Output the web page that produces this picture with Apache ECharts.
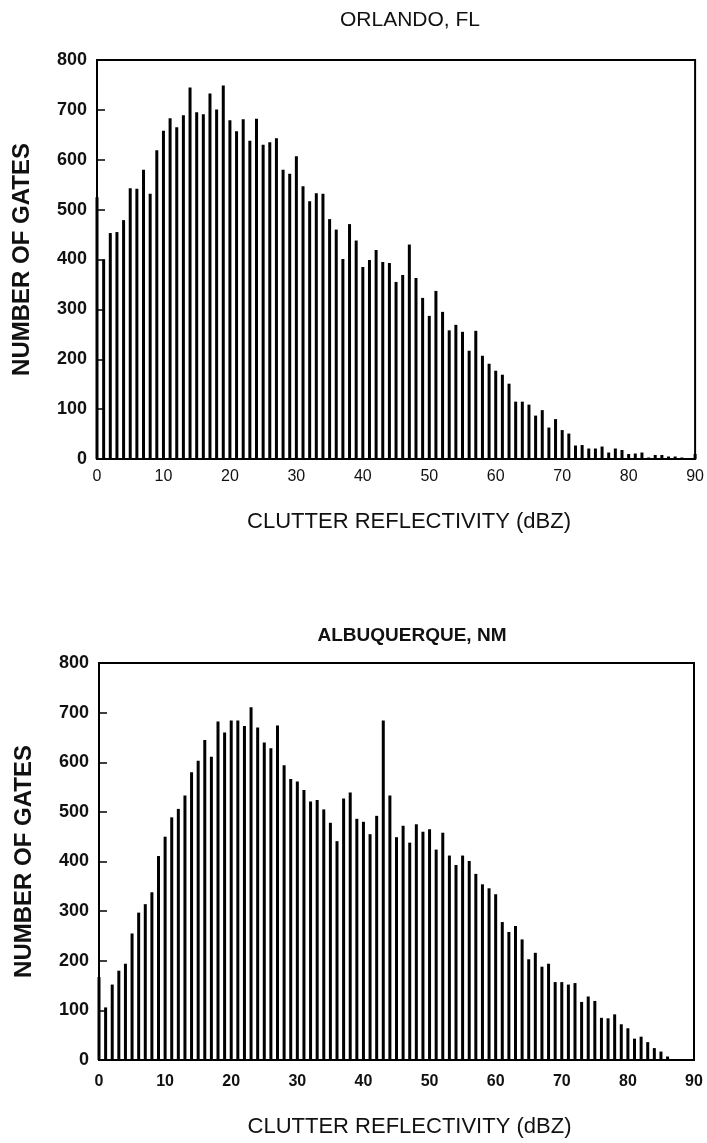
<!DOCTYPE html>
<html>
<head>
<meta charset="utf-8">
<script src="https://cdn.jsdelivr.net/npm/echarts@6/dist/echarts.min.js"></script>
<style>
  html, body { margin: 0; padding: 0; background: #fff; }
  #main { width: 707px; height: 1143px; }
</style>
</head>
<body>
<div id="main"></div>
<script>
// dBZ bins 0..90
const dbz = Array.from({ length: 91 }, (_, i) => i);
const xTicks = [0, 10, 20, 30, 40, 50, 60, 70, 80, 90];
const yTicks = [0, 100, 200, 300, 400, 500, 600, 700, 800];

const orlandoTitle = "ORLANDO, FL";
const albuquerqueTitle = "ALBUQUERQUE, NM";

// number of gates per bin
const orlando = [
  525, 400, 453, 455, 479, 543, 542, 580, 532, 619,
  658, 683, 665, 689, 745, 695, 691, 733, 701, 749,
  679, 657, 681, 638, 682, 630, 635, 643, 580, 572,
  607, 547, 517, 533, 532, 481, 460, 401, 471, 438,
  385, 399, 419, 395, 393, 355, 369, 430, 363, 323,
  287, 337, 295, 258, 269, 255, 217, 257, 207, 191,
  177, 169, 151, 115, 115, 109, 87, 98, 63, 80,
  58, 51, 27, 28, 21, 21, 25, 13, 21, 18,
  10, 11, 13, 3, 8, 8, 5, 5, 3, 1,
  10
];
const albuquerque = [
  167, 106, 152, 180, 194, 255, 297, 314, 338, 411,
  450, 489, 506, 533, 580, 603, 645, 611, 682, 660,
  684, 684, 673, 711, 670, 640, 628, 674, 594, 566,
  561, 544, 521, 524, 505, 478, 441, 527, 539, 486,
  480, 455, 492, 684, 533, 449, 472, 438, 475, 460,
  465, 424, 458, 412, 393, 412, 401, 375, 354, 346,
  334, 278, 258, 270, 243, 203, 216, 188, 194, 157,
  157, 152, 155, 117, 128, 119, 85, 84, 92, 72,
  64, 43, 47, 36, 24, 17, 7, 2, 1, 1,
  0
];

const FONT = "Liberation Sans";

function xAxisFor(gridIndex, labelMargin, nameGap, bold) {
  return {
    type: "value",
    gridIndex: gridIndex,
    min: xTicks[0],
    max: xTicks[xTicks.length - 1],
    interval: 10,
    name: "CLUTTER REFLECTIVITY (dBZ)",
    nameLocation: "middle",
    nameGap: nameGap,
    nameTextStyle: { fontFamily: FONT, fontSize: 22, color: "#111", padding: [0, 0, 0, 26] },
    axisLine: { show: true, lineStyle: { color: "#000", width: 2 } },
    axisTick: { show: false },
    splitLine: { show: false },
    axisLabel: {
      margin: labelMargin,
      fontFamily: FONT,
      fontSize: 16,
      fontWeight: bold ? "bold" : "normal",
      color: "#111",
    },
  };
}

function yAxisFor(gridIndex) {
  return {
    type: "value",
    gridIndex: gridIndex,
    min: yTicks[0],
    max: yTicks[yTicks.length - 1],
    interval: 100,
    name: "NUMBER OF GATES",
    nameLocation: "middle",
    nameRotate: 90,
    nameGap: 63,
    nameTextStyle: { fontFamily: FONT, fontSize: 24, fontWeight: "bold", color: "#111" },
    axisLine: { show: true, lineStyle: { color: "#000", width: 2 } },
    axisTick: { show: true, inside: true, length: 8, lineStyle: { color: "#000", width: 1.5 } },
    splitLine: { show: false },
    axisLabel: {
      margin: 10,
      fontFamily: FONT,
      fontSize: 18,
      fontWeight: "bold",
      color: "#111",
    },
  };
}

function barSeries(index, values) {
  return {
    type: "bar",
    xAxisIndex: index,
    yAxisIndex: index,
    data: values.map((v, i) => [dbz[i], v]),
    barWidth: 3,
    clip: false,
    itemStyle: { color: "#000" },
    silent: true,
    animation: false,
  };
}

const chart = echarts.init(document.getElementById("main"), null, { renderer: "canvas" });

chart.setOption({
  backgroundColor: "#fff",
  animation: false,
  title: [
    {
      text: orlandoTitle,
      left: 405,
      top: 5,
      textAlign: "center",
      textStyle: { fontFamily: FONT, fontSize: 21, fontWeight: "normal", color: "#111" },
    },
    {
      text: albuquerqueTitle,
      left: 407,
      top: 621,
      textAlign: "center",
      textStyle: { fontFamily: FONT, fontSize: 19, fontWeight: "bold", color: "#111" },
    },
  ],
  grid: [
    { left: 97, top: 60, width: 601, height: 399, show: true, borderColor: "#000", borderWidth: 2 },
    { left: 99, top: 663, width: 595, height: 397, show: true, borderColor: "#000", borderWidth: 2 },
  ],
  xAxis: [xAxisFor(0, 10, 52, false), xAxisFor(1, 14, 56, true)],
  yAxis: [yAxisFor(0), yAxisFor(1)],
  series: [barSeries(0, orlando), barSeries(1, albuquerque)],
});
</script>
</body>
</html>
